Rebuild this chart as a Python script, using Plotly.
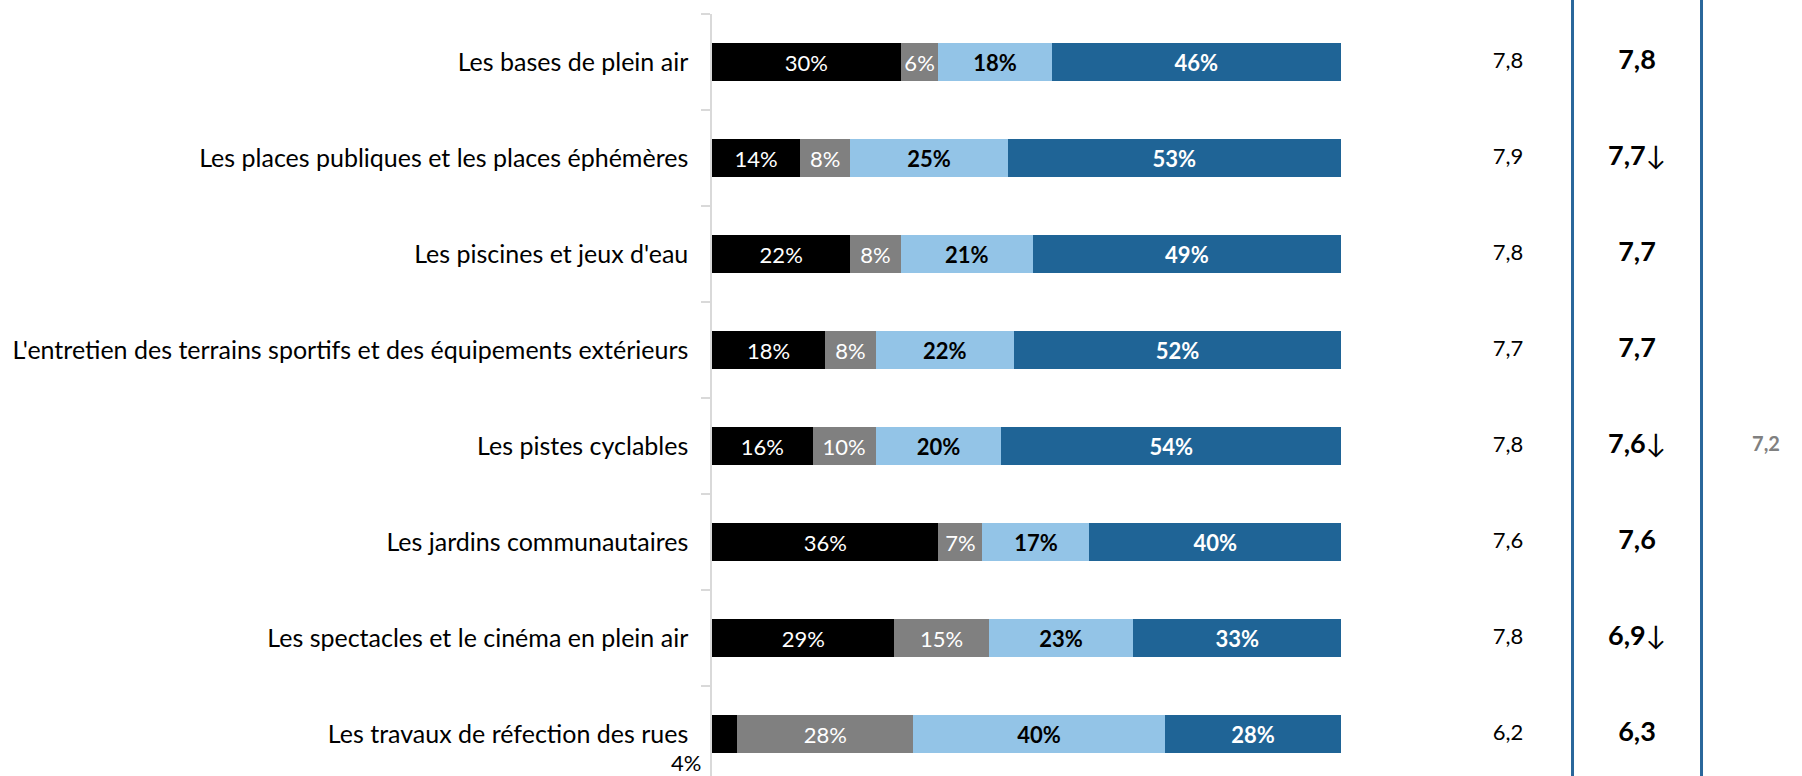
import plotly.graph_objects as go

categories = [
    "Les bases de plein air",
    "Les places publiques et les places éphémères",
    "Les piscines et jeux d'eau",
    "L'entretien des terrains sportifs et des équipements extérieurs",
    "Les pistes cyclables",
    "Les jardins communautaires",
    "Les spectacles et le cinéma en plein air",
    "Les travaux de réfection des rues",
]
pct_black = [30, 14, 22, 18, 16, 36, 29, 4]
pct_grey = [6, 8, 8, 8, 10, 7, 15, 28]
pct_light = [18, 25, 21, 22, 20, 17, 23, 40]
pct_dark = [46, 53, 49, 52, 54, 40, 33, 28]
score_prev = ["7,8", "7,9", "7,8", "7,7", "7,8", "7,6", "7,8", "6,2"]
score_now = ["7,8", "7,7", "7,7", "7,7", "7,6", "7,6", "6,9", "6,3"]
score_down = [False, True, False, False, True, False, True, False]
score_avg = ["", "", "", "", "7,2", "", "", ""]

FONT = "Lato"
LBL = 22
C_BLACK, C_GREY, C_LIGHT, C_DARK = "#000000", "#808080", "#93C4E7", "#1F6496"

fig = go.Figure()

def seg(vals, color, tcolor, bold, name, minshow=5):
    txt = []
    for v in vals:
        if v < minshow:
            txt.append("")
        else:
            txt.append(f"<b>{v}%</b>" if bold else f"{v}%")
    fig.add_trace(go.Bar(
        y=categories, x=vals, orientation="h", name=name,
        marker=dict(color=color, line=dict(width=0)),
        text=txt, textposition="inside", insidetextanchor="middle",
        textfont=dict(family=FONT, size=LBL, color=tcolor),
        hoverinfo="skip", showlegend=False,
    ))

seg(pct_black, C_BLACK, "white", False, "Très insatisfait")
seg(pct_grey, C_GREY, "white", False, "Plutôt insatisfait")
seg(pct_light, C_LIGHT, "black", True, "Plutôt satisfait")
seg(pct_dark, C_DARK, "white", True, "Très satisfait")

# small segment label placed outside
for i, v in enumerate(pct_black):
    if v < 5:
        fig.add_annotation(x=0, y=categories[i], xref="x", yref="y", text=f"{v}%",
                           showarrow=False, xanchor="right", yanchor="middle",
                           xshift=-9, yshift=-28,
                           font=dict(family=FONT, size=LBL, color="black"))

# score columns
cols_prev = [0] * len(categories)
cols_now = [1] * len(categories)
cols_avg = [2] * len(categories)
fig.add_trace(go.Scatter(x=cols_prev, y=categories, mode="text", text=score_prev,
                         textfont=dict(family=FONT, size=22, color="black"),
                         xaxis="x2", yaxis="y", hoverinfo="skip", showlegend=False,
                         cliponaxis=False))
now_txt = [f"<b>{s}</b>↓" if d else f"<b>{s}</b>" for s, d in zip(score_now, score_down)]
fig.add_trace(go.Scatter(x=cols_now, y=categories, mode="text", text=now_txt,
                         textfont=dict(family=FONT, size=27, color="black"),
                         xaxis="x2", yaxis="y", hoverinfo="skip", showlegend=False,
                         cliponaxis=False))
fig.add_trace(go.Scatter(x=cols_avg, y=categories, mode="text",
                         text=[f"<b>{s}</b>" for s in score_avg],
                         textfont=dict(family=FONT, size=20, color="#808080"),
                         xaxis="x2", yaxis="y", hoverinfo="skip", showlegend=False,
                         cliponaxis=False))

for xb in [0.5, 1.5]:
    fig.add_shape(type="line", xref="x2", yref="paper", x0=xb, x1=xb, y0=-0.05, y1=1.05,
                  line=dict(color="#2A679B", width=3), layer="above")

fig.update_layout(
    width=1802, height=776, autosize=False,
    margin=dict(l=712, r=0, t=14, b=0, pad=0),
    barmode="stack", bargap=0.6,
    paper_bgcolor="white", plot_bgcolor="white",
    font=dict(family=FONT, size=22, color="black"),
    uniformtext=dict(minsize=LBL, mode="show"),
    xaxis=dict(domain=[0, 629 / 1090], range=[0, 100], visible=False, fixedrange=True),
    xaxis2=dict(domain=[629 / 1090, 1], range=[-1.2946, 2.279], visible=False,
                anchor="y", fixedrange=True),
    yaxis=dict(type="category", range=[7.4375, -0.5], showline=True,
               linecolor="#D9D9D9", linewidth=1.5, ticks="outside", tickson="boundaries",
               ticklen=9, tickcolor="#D9D9D9", tickwidth=1.5, showgrid=False,
               tickfont=dict(family=FONT, size=25, color="black"),
               ticklabelstandoff=17, fixedrange=True),
)

fig.write_html("out.html", config={"displayModeBar": False},
               post_script="document.body.style.margin='0';")
